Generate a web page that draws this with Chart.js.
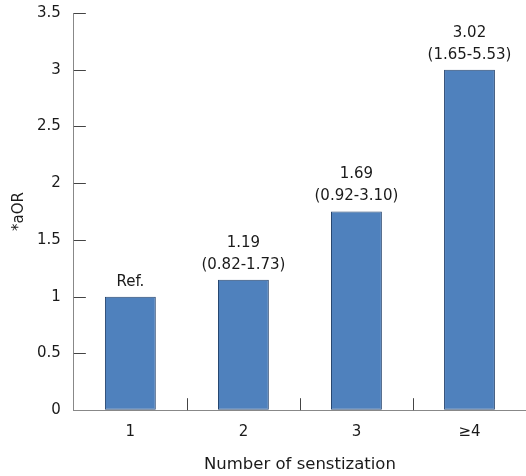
<!DOCTYPE html>
<html>
<head>
<meta charset="utf-8">
<script src="https://cdn.jsdelivr.net/npm/chart.js@4"></script>
<style>
  html, body { margin: 0; padding: 0; background: #fff; }
  #wrap { width: 526px; height: 476px; }
</style>
</head>
<body>
<div id="wrap"><canvas id="chart" width="526" height="476"></canvas></div>
<script>
const categories = ['1', '2', '3', '\u22654'];
const aorValues = [1.0, 1.15, 1.75, 3.0];
const estimateLabels = ['', '1.19', '1.69', '3.02'];
const ciLabels = ['Ref.', '(0.82-1.73)', '(0.92-3.10)', '(1.65-5.53)'];
const yTicks = [0, 0.5, 1, 1.5, 2, 2.5, 3, 3.5];

const FONT = '"DejaVu Sans", "Noto Sans", sans-serif';
const TEXT = '#1a1a1a';

// ticks in the reference point inward, so draw them ourselves
const innerTicks = {
    id: 'innerTicks',
    afterDraw(chart) {
        const ctx = chart.ctx;
        const x = chart.scales.x;
        const y = chart.scales.y;
        const area = chart.chartArea;
        ctx.save();
        ctx.strokeStyle = '#444';
        ctx.lineWidth = 1;
        yTicks.forEach(v => {
            if (v === 0) return;
            const py = Math.round(y.getPixelForValue(v)) + 0.5;
            ctx.beginPath();
            ctx.moveTo(area.left, py);
            ctx.lineTo(area.left + 12, py);
            ctx.stroke();
        });
        for (let i = 0; i < categories.length - 1; i++) {
            const px = Math.round((x.getPixelForValue(i) + x.getPixelForValue(i + 1)) / 2) + 0.5;
            ctx.beginPath();
            ctx.moveTo(px, area.bottom);
            ctx.lineTo(px, area.bottom - 12);
            ctx.stroke();
        }
        ctx.restore();
    }
};

const barLabels = {
    id: 'barLabels',
    afterDatasetsDraw(chart) {
        const ctx = chart.ctx;
        const meta = chart.getDatasetMeta(0);
        ctx.save();
        ctx.font = '15px ' + FONT;
        ctx.fillStyle = TEXT;
        ctx.textAlign = 'center';
        ctx.textBaseline = 'middle';
        meta.data.forEach((bar, i) => {
            ctx.fillText(ciLabels[i], bar.x, bar.y - 15);
            if (estimateLabels[i]) ctx.fillText(estimateLabels[i], bar.x, bar.y - 37);
        });
        ctx.restore();
    }
};

new Chart(document.getElementById('chart'), {
    type: 'bar',
    data: {
        labels: categories,
        datasets: [{
            data: aorValues,
            backgroundColor: '#4f81bd',
            borderColor: '#26456f',
            borderWidth: 1,
            borderSkipped: false,
            categoryPercentage: 1,
            barPercentage: 0.45
        }]
    },
    options: {
        responsive: false,
        animation: false,
        layout: { padding: { top: 0, right: 0, left: 10, bottom: 0 } },
        plugins: {
            legend: { display: false },
            tooltip: { enabled: false }
        },
        scales: {
            x: {
                grid: { display: true, drawOnChartArea: false, drawTicks: false, color: 'rgba(0,0,0,0)' },
                border: { color: '#888', width: 1 },
                ticks: { color: TEXT, font: { family: FONT, size: 15 }, padding: 13 },
                title: {
                    display: true,
                    text: 'Number of senstization',
                    color: TEXT,
                    font: { family: FONT, size: 16.5 },
                    padding: { top: 1, bottom: 1 }
                }
            },
            y: {
                min: 0,
                max: 3.5,
                // invisible tick marks keep the label gap without padding the top
                grid: { display: true, drawOnChartArea: false, drawTicks: true, tickLength: 9, color: 'rgba(0,0,0,0)' },
                border: { color: '#888', width: 1 },
                ticks: {
                    stepSize: 0.5,
                    color: TEXT,
                    font: { family: FONT, size: 15 },
                    padding: 4,
                    callback: v => String(v)
                },
                title: {
                    display: true,
                    text: '*aOR',
                    color: TEXT,
                    font: { family: FONT, size: 15 },
                    padding: { top: 0, bottom: 5 }
                }
            }
        }
    },
    plugins: [innerTicks, barLabels]
});
</script>
</body>
</html>
